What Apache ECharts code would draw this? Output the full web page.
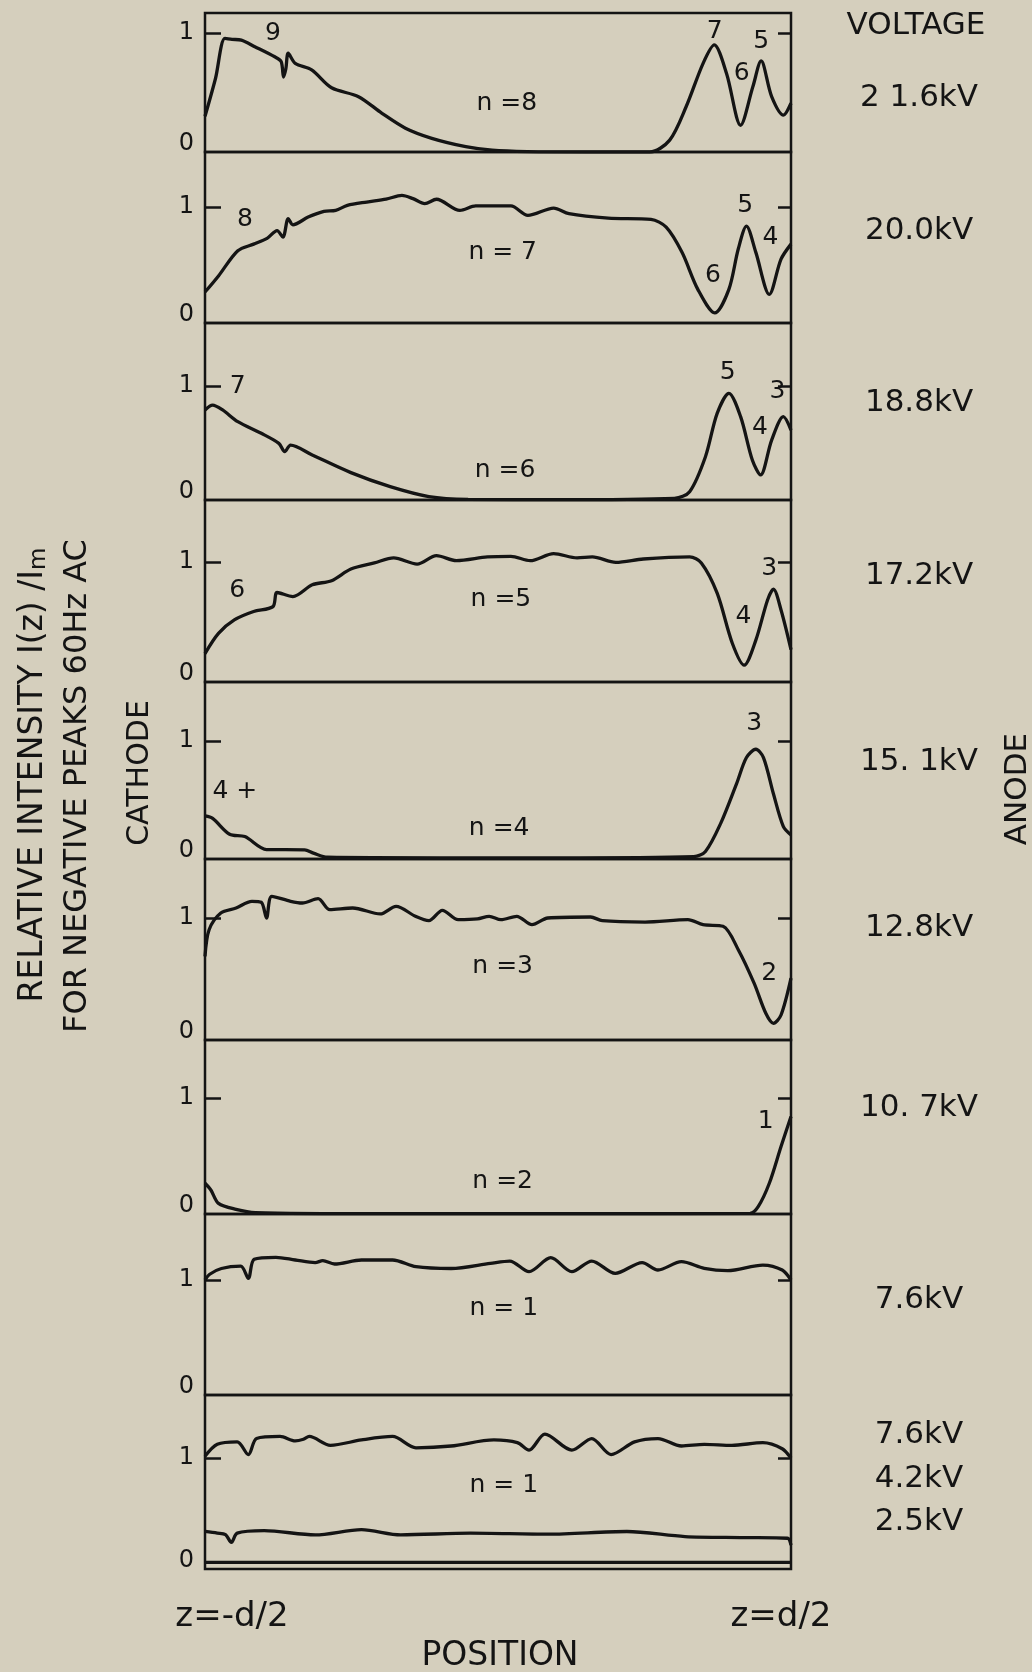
<!DOCTYPE html>
<html><head><meta charset="utf-8">
<script src="https://cdn.jsdelivr.net/npm/echarts@6/dist/echarts.min.js"></script>
<style>html,body{margin:0;padding:0;background:#d5cfbd;}#c{width:1032px;height:1672px;}</style>
</head><body><div id="c"></div>
<script>
// ---------- DATA (position 0..100 from z=-d/2 to z=d/2, relative intensity) ----------
const n8Pos = [0, 1.8, 3.4, 4.6, 6.2, 8.5, 11.9, 13.0, 13.4, 13.8, 14.2, 15.4, 18.2, 21.6, 26.2, 30.2, 34.2, 38.7, 44.5, 49, 55, 65, 75.9, 79.3, 82.1, 85, 86.9, 89, 91.4, 93.5, 94.9, 96.7, 98.7, 100];
const n8Val = [0.30, 0.62, 0.955, 0.947, 0.94, 0.885, 0.80, 0.76, 0.63, 0.70, 0.83, 0.745, 0.69, 0.54, 0.465, 0.325, 0.20, 0.115, 0.045, 0.015, 0.003, 0.0, 0.0, 0.10, 0.38, 0.745, 0.90, 0.66, 0.225, 0.55, 0.765, 0.465, 0.31, 0.41];

const n7Pos = [0, 2.3, 5.6, 8.3, 10.6, 12.3, 13.3, 14.2, 15, 17.6, 20.3, 22.3, 24.3, 27.6, 30.9, 33.6, 35.5, 37.5, 39.5, 43.5, 46.2, 52.2, 55.1, 59.5, 62.1, 68.8, 76.1, 78.7, 81.4, 84.1, 87, 89.4, 91, 92.4, 94, 96.3, 98.3, 100];
const n7Val = [0.267, 0.406, 0.623, 0.68, 0.73, 0.797, 0.74, 0.90, 0.846, 0.913, 0.962, 0.971, 1.014, 1.043, 1.067, 1.10, 1.072, 1.029, 1.067, 0.971, 1.009, 1.009, 0.928, 0.991, 0.942, 0.904, 0.893, 0.826, 0.609, 0.29, 0.087, 0.29, 0.638, 0.835, 0.609, 0.246, 0.55, 0.68];

const n6Pos = [0, 1.3, 3, 5.6, 9.6, 12.6, 13.6, 14.6, 18.3, 24.9, 31.6, 38.2, 44.9, 60, 80.1, 82.7, 85.4, 87.4, 89.4, 91.4, 93.4, 94.8, 96.7, 98.7, 100];
const n6Val = [0.79, 0.833, 0.79, 0.687, 0.585, 0.497, 0.424, 0.482, 0.395, 0.24, 0.117, 0.03, 0.006, 0.003, 0.015, 0.073, 0.38, 0.76, 0.936, 0.731, 0.351, 0.22, 0.526, 0.731, 0.614];

const n5Pos = [0, 2.3, 5, 8.3, 11.6, 12.3, 15, 18.3, 21.6, 24.9, 28.9, 32.2, 36.2, 39.5, 42.9, 48.2, 52.2, 55.5, 59.5, 63.5, 66.1, 70.1, 74.8, 82.7, 84.7, 87.4, 90, 92, 94, 96, 97, 98.3, 100];
const n5Val = [0.237, 0.405, 0.517, 0.587, 0.628, 0.746, 0.712, 0.81, 0.844, 0.941, 0.992, 1.034, 0.983, 1.053, 1.011, 1.042, 1.047, 1.011, 1.07, 1.034, 1.042, 0.997, 1.025, 1.042, 0.992, 0.74, 0.321, 0.14, 0.349, 0.684, 0.774, 0.60, 0.27];

const n4Pos = [0, 1.3, 4.2, 6.8, 10.5, 17, 18.5, 20.9, 40, 60, 83.4, 85.4, 88, 90.7, 92.4, 94, 95.3, 97, 98.7, 100];
const n4Val = [0.365, 0.344, 0.21, 0.19, 0.08, 0.078, 0.05, 0.015, 0.01, 0.01, 0.02, 0.064, 0.302, 0.637, 0.86, 0.93, 0.86, 0.553, 0.274, 0.204];

const n3Pos = [0, 0.7, 2.7, 5.3, 8, 9.6, 10.5, 11.4, 14.6, 16.6, 19.3, 21.3, 25.2, 29.9, 32.6, 35.9, 38.2, 40.5, 43.2, 46.5, 48.5, 50.5, 53.2, 55.8, 58.5, 65.8, 67.8, 75.1, 82.4, 85, 88.4, 91, 93.7, 95.7, 97, 98.3, 100];
const n3Val = [0.685, 0.904, 1.041, 1.082, 1.137, 1.129, 1.0, 1.178, 1.137, 1.123, 1.159, 1.068, 1.082, 1.033, 1.096, 1.014, 0.978, 1.063, 0.986, 0.992, 1.014, 0.986, 1.014, 0.945, 1.0, 1.008, 0.978, 0.967, 0.986, 0.945, 0.932, 0.74, 0.466, 0.219, 0.137, 0.205, 0.507];

const n2Pos = [0, 1, 2.3, 5.3, 8.6, 30, 60, 93, 94.4, 96.3, 98.3, 100];
const n2Val = [0.265, 0.207, 0.092, 0.04, 0.012, 0.003, 0.003, 0.005, 0.063, 0.265, 0.582, 0.84];

const n1aPos = [0, 0.8, 2.8, 6.1, 7.4, 8.4, 12.1, 15.4, 18.8, 20.1, 22.1, 26.7, 32, 36, 42, 48.7, 52, 55.3, 59, 62.6, 66, 70, 74.6, 77.3, 81.3, 85.2, 89.2, 95.2, 98.5, 100];
const n1aVal = [1.0, 1.05, 1.10, 1.12, 1.014, 1.18, 1.197, 1.174, 1.151, 1.168, 1.139, 1.174, 1.174, 1.116, 1.10, 1.145, 1.165, 1.072, 1.194, 1.072, 1.165, 1.058, 1.151, 1.087, 1.159, 1.101, 1.081, 1.13, 1.087, 1.0];

const n1bPos = [0, 2.1, 5.5, 7.4, 8.8, 12.8, 15.4, 16.8, 17.8, 21.4, 26.7, 32, 36, 42, 49.3, 53.3, 55.3, 58, 62.6, 66, 69.3, 73.3, 77.3, 81.3, 85.2, 89.9, 95.2, 98.5, 100];
const n1bVal = [1.015, 1.123, 1.145, 1.03, 1.175, 1.194, 1.154, 1.169, 1.194, 1.114, 1.163, 1.194, 1.092, 1.108, 1.163, 1.138, 1.071, 1.215, 1.071, 1.175, 1.031, 1.145, 1.175, 1.108, 1.123, 1.114, 1.138, 1.083, 1.0];

const kv42Pos = [0, 2.1, 3.5, 4.5, 5.5, 10.1, 18.8, 26.7, 33.4, 45.3, 58.6, 72, 81.9, 91.9, 99.4, 100];
const kv42Val = [0.338, 0.323, 0.31, 0.24, 0.323, 0.345, 0.308, 0.354, 0.308, 0.323, 0.314, 0.338, 0.292, 0.283, 0.277, 0.215];

const kv25Pos = [0, 50, 100];
const kv25Val = [0.06, 0.06, 0.06];

// text of the figure
const panelNames = ['n =8', 'n = 7', 'n =6', 'n =5', 'n =4', 'n =3', 'n =2', 'n = 1', 'n = 1'];
const panelNameAt = [[51.5, 0.41], [50.8, 0.61], [51.2, 0.26], [50.5, 0.69], [50.2, 0.26], [50.8, 0.60], [50.8, 0.28], [51, 0.75], [51, 0.75]];
const peakLabels = [
  [[11.6, 1.0, '9'], [87, 1.01, '7'], [91.6, 0.66, '6'], [94.9, 0.93, '5']],
  [[6.8, 0.89, '8'], [86.7, 0.41, '6'], [92.2, 1.01, '5'], [96.5, 0.74, '4']],
  [[5.6, 1.0, '7'], [89.2, 1.12, '5'], [97.7, 0.95, '3'], [94.7, 0.64, '4']],
  [[5.5, 0.76, '6'], [96.3, 0.95, '3'], [91.9, 0.545, '4']],
  [[5.1, 0.57, '4 +'], [93.7, 1.145, '3']],
  [[96.3, 0.548, '2']],
  [[95.7, 0.80, '1']],
  [],
  []
];
const voltageTitle = 'VOLTAGE';
const voltageLabels = ['2 1.6kV', '20.0kV', '18.8kV', '17.2kV', '15. 1kV', '12.8kV', '10. 7kV', '7.6kV', '7.6kV', '4.2kV', '2.5kV'];
const tickValues = [0, 1];

// ---------- LAYOUT ----------
const FONT = 'DejaVu Sans';
const INK = '#141414';
const gridLeft = 205, gridWidth = 586;
const panelEdges = [13, 152, 323, 500, 682, 859, 1040, 1214, 1395, 1569];
const panelOnes = [33, 207, 386, 562, 741, 918, 1098, 1280, 1458];
const voltageY = [98, 231, 403, 576, 762, 928, 1108, 1300, 1435, 1479, 1522];

const curves = [
  [0, n8Pos, n8Val], [1, n7Pos, n7Val], [2, n6Pos, n6Val], [3, n5Pos, n5Val],
  [4, n4Pos, n4Val], [5, n3Pos, n3Val], [6, n2Pos, n2Val], [7, n1aPos, n1aVal],
  [8, n1bPos, n1bVal], [8, kv42Pos, kv42Val], [8, kv25Pos, kv25Val]
];

const grids = [], xAxes = [], yAxes = [], series = [];
for (let i = 0; i < 9; i++) {
  const top = panelEdges[i], bottom = panelEdges[i + 1];
  const h = bottom - top;
  const ymax = h / (bottom - panelOnes[i]);
  grids.push({left: gridLeft, width: gridWidth, top: top, height: h, show: true,
    borderWidth: 2.5, borderColor: INK, backgroundColor: 'transparent', containLabel: false});
  xAxes.push({type: 'value', gridIndex: i, min: 0, max: 100, show: false});
  yAxes.push({type: 'value', gridIndex: i, position: 'left', min: 0, max: ymax, interval: 1,
    axisLine: {show: false}, splitLine: {show: false},
    axisTick: {show: true, inside: true, length: 16, customValues: [1], lineStyle: {color: INK, width: 2.5}},
    axisLabel: {show: true, customValues: tickValues, margin: 11, color: INK, fontFamily: FONT, fontSize: 24,
      formatter: v => v === 0 ? '{z|0}' : (v === 1 ? '1' : ''),
      rich: {z: {fontFamily: FONT, fontSize: 24, color: INK, padding: [0, 0, 16, 0]}}}});
  yAxes.push({type: 'value', gridIndex: i, position: 'right', min: 0, max: ymax, interval: 1,
    axisLine: {show: false}, splitLine: {show: false},
    axisTick: {show: true, inside: true, length: 13, customValues: [1], lineStyle: {color: INK, width: 2.5}},
    axisLabel: {show: false}});
  // panel text annotations
  const ann = [{value: [panelNameAt[i][0], panelNameAt[i][1]], name: panelNames[i]}]
    .concat(peakLabels[i].map(p => ({value: [p[0], p[1]], name: p[2]})));
  series.push({type: 'scatter', xAxisIndex: i, yAxisIndex: 2 * i, symbolSize: 1, silent: true,
    itemStyle: {color: 'rgba(0,0,0,0)', opacity: 1}, data: ann,
    label: {show: true, position: 'inside', formatter: '{b}', color: INK, opacity: 1,
      fontFamily: FONT, fontSize: 25}});
}
curves.forEach(c => {
  const i = c[0];
  series.push({type: 'line', xAxisIndex: i, yAxisIndex: 2 * i, showSymbol: false, symbol: 'none',
    smooth: 0.3, silent: true, clip: true,
    lineStyle: {color: INK, width: 3.3},
    data: c[1].map((p, k) => [p, c[2][k]])});
});

function txt(x, y, text, size, rot, extra) {
  return Object.assign({type: 'text', x: x, y: y, rotation: rot || 0, silent: true,
    style: Object.assign({text: text, fill: INK, font: size + 'px "' + FONT + '"', fontFamily: FONT, fontSize: size,
      align: 'center', verticalAlign: 'middle', textAlign: 'center', textVerticalAlign: 'middle'}, extra || {})});
}
const graphics = [];
graphics.push(txt(916, 26, voltageTitle, 31));
voltageLabels.forEach((t, k) => graphics.push(txt(919, voltageY[k], t, 31)));
graphics.push(txt(1018, 789, 'ANODE', 31, Math.PI / 2));
graphics.push(txt(33, 775, 'RELATIVE INTENSITY I(z) /I{m|m}', 33, Math.PI / 2,
  {rich: {m: {fontFamily: FONT, fontSize: 23, fill: INK, padding: [13, 0, 0, 0]}}}));
graphics.push(txt(78, 786, 'FOR NEGATIVE PEAKS 60Hz AC', 32, Math.PI / 2));
graphics.push(txt(140, 773, 'CATHODE', 30, Math.PI / 2));
graphics.push(txt(232, 1617, 'z=-d/2', 34));
graphics.push(txt(781, 1617, 'z=d/2', 34));
graphics.push(txt(500, 1656, 'POSITION', 33));

const chart = echarts.init(document.getElementById('c'), null, {renderer: 'canvas'});
chart.setOption({
  backgroundColor: '#d5cfbd',
  animation: false,
  grid: grids, xAxis: xAxes, yAxis: yAxes, series: series,
  graphic: graphics
});
</script></body></html>
